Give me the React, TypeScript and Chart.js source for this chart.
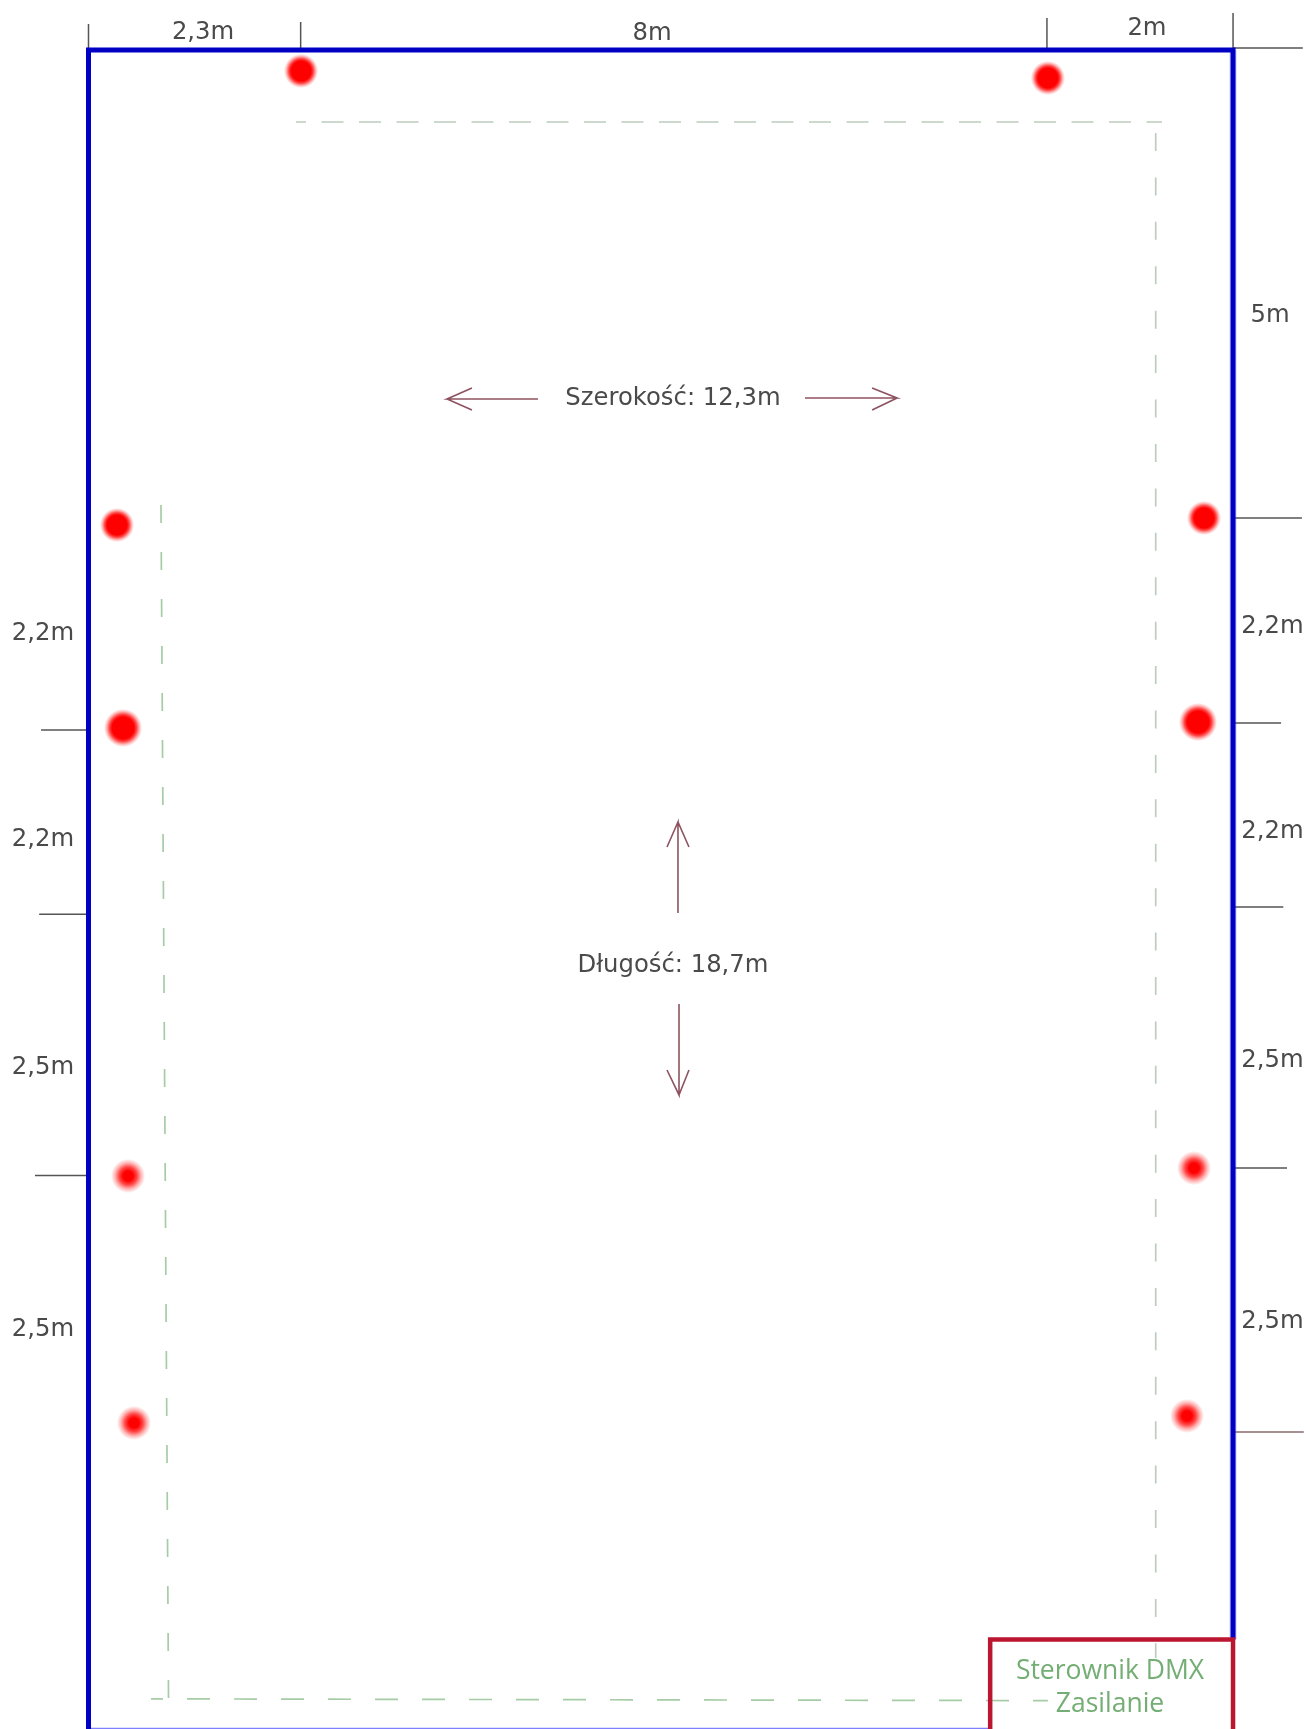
import React, { useEffect, useRef } from "react";
import { Chart, registerables } from "chart.js";

Chart.register(...registerables);

// All positions are metres on the hall plan: x across the width, y down the length.
const hallWidth = 12.3;
const hallLength = 18.7;

// Outer wall
const wallX = [0, 0, 12.3, 12.3];
const wallY = [18.72, 0, 0, 17.71];
const floorEdgeX = [0, 9.69];
const floorEdgeY = [18.7, 18.7];

// Controller box
const boxX = [9.69, 9.69, 12.3, 12.3];
const boxY = [18.72, 17.71, 17.71, 18.72];

// Dashed cable run
const cableTopX = [2.23, 11.537];
const cableTopY = [0.802, 0.802];
const cableRightX = [11.469, 11.469];
const cableRightY = [0.925, 17.914];
const cableLeftX = [0.779, 0.86];
const cableLeftY = [5.069, 18.36];
const cableBottomX = [0.672, 10.31];
const cableBottomY = [18.37, 18.39];

// Fixtures
const fixtureTopX = [2.284, 10.31];
const fixtureTopY = [0.234, 0.312];
const fixtureUpperX = [0.306, 11.988];
const fixtureUpperY = [5.292, 5.214];
const fixtureMiddleX = [0.371, 11.924];
const fixtureMiddleY = [7.553, 7.487];
const fixtureLowerX = [0.425, 0.489, 11.88, 11.805];
const fixtureLowerY = [12.544, 15.296, 12.456, 15.218];

// Dimension ticks
const tickTopX = [0, 2.28, 10.3, 12.3];
const tickTopFromY = [-0.29, -0.312, -0.357, -0.412];
const tickLeftY = [7.576, 9.63, 12.54];
const tickLeftFromX = [-0.51, -0.53, -0.575];
const tickRightY = [-0.022, 5.214, 7.498, 9.548, 12.456];
const tickRightToX = [13.05, 13.04, 12.816, 12.84, 12.88];
const tickBrownY = [15.396];
const tickBrownToX = [13.06];

// Arrows
const arrowLeftX = [4.831, 3.853, 4.121, 3.853, 4.121];
const arrowLeftY = [3.888, 3.888, 3.766, 3.888, 4.011];
const arrowRightX = [7.7, 8.689, 8.421, 8.689, 8.421];
const arrowRightY = [3.877, 3.877, 3.766, 3.877, 4.011];
const arrowUpX = [6.335, 6.335, 6.217, 6.335, 6.453];
const arrowUpY = [9.615, 8.601, 8.879, 8.601, 8.879];
const arrowDownX = [6.346, 6.346, 6.217, 6.346, 6.453];
const arrowDownY = [10.628, 11.642, 11.364, 11.642, 11.364];

// Text
const labelTexts = ["2,3m", "8m", "2m", "5m", "Szerokość: 12,3m", "Długość: 18,7m", "2,2m", "2,2m", "2,5m", "2,5m", "2,2m", "2,2m", "2,5m", "2,5m"];
const labelX = [1.231, 6.056, 11.375, 12.697, 6.281, 6.281, -0.489, -0.489, -0.489, -0.489, 12.724, 12.724, 12.724, 12.724];
const labelY = [-0.123, -0.111, -0.167, 3.03, 3.955, 10.27, 6.573, 8.868, 11.408, 14.327, 6.495, 8.779, 11.33, 14.238];
const boxTexts = ["Sterownik DMX", "Zasilanie"];
const boxTextX = [10.978, 10.978];
const boxTextY = [18.148, 18.516];

const zip = (xs: number[], ys: number[]) => xs.map((x, i) => ({ x, y: ys[i] }));

function glow(radius: number, core: number, colour = "255,0,0") {
  const c = document.createElement("canvas");
  c.width = c.height = radius * 2;
  const g = c.getContext("2d")!;
  const grad = g.createRadialGradient(radius, radius, 0, radius, radius, radius);
  const k = core / radius;
  grad.addColorStop(0, `rgba(${colour},1)`);
  grad.addColorStop(k, `rgba(${colour},1)`);
  grad.addColorStop(k + (1 - k) * 0.33, `rgba(${colour},0.72)`);
  grad.addColorStop(k + (1 - k) * 0.66, `rgba(${colour},0.3)`);
  grad.addColorStop(1, `rgba(${colour},0)`);
  g.fillStyle = grad;
  g.fillRect(0, 0, radius * 2, radius * 2);
  return c;
}

const line = (data: { x: number; y: number }[], borderColor: string, borderWidth: number, extra: object = {}) => ({
  data,
  borderColor,
  borderWidth,
  showLine: true,
  pointRadius: 0,
  fill: false,
  tension: 0,
  ...extra,
});

const spot = (data: { x: number; y: number }[], sprite: HTMLCanvasElement) => ({
  data,
  showLine: false,
  pointStyle: sprite,
  pointRadius: sprite.width / 2,
});

const tickSegments = (pairs: { x: number; y: number }[][], colour: string, width = 1.5) =>
  pairs.map((p) => line(p, colour, width));

const textPlugin = {
  id: "planText",
  afterDatasetsDraw(chart: any) {
    const { ctx, scales } = chart;
    ctx.save();
    ctx.textAlign = "center";
    ctx.textBaseline = "alphabetic";
    ctx.font = '24.3px "DejaVu Sans"';
    ctx.fillStyle = "#4a4a4a";
    labelTexts.forEach((t, i) => {
      ctx.fillText(t, scales.x.getPixelForValue(labelX[i]), scales.y.getPixelForValue(labelY[i]));
    });
    ctx.font = '26.5px "Open Sans"';
    ctx.fillStyle = "#74ae74";
    boxTexts.forEach((t, i) => {
      ctx.fillText(t, scales.x.getPixelForValue(boxTextX[i]), scales.y.getPixelForValue(boxTextY[i]));
    });
    ctx.restore();
  },
};

export default function App() {
  const ref = useRef<HTMLCanvasElement>(null);
  useEffect(() => {
    const darkTick = "#555555";
    const arrow = "#8e5360";
    const cable = "#a6cca6";
    const cableGrey = "#bccdbc";
    const datasets: any[] = [
      spot(zip(fixtureTopX, fixtureTopY), glow(17, 10)),
      spot(zip(fixtureUpperX, fixtureUpperY), glow(17, 10)),
      spot(zip(fixtureMiddleX, fixtureMiddleY), glow(19, 11)),
      spot(zip(fixtureLowerX, fixtureLowerY), glow(17, 5)),
      line(zip(boxX, boxY), "#bc1530", 4.5),
      line(zip(wallX, wallY), "#0000c4", 5),
      line(zip(floorEdgeX, floorEdgeY), "#8080ff", 1.5),
      line(zip(cableTopX, cableTopY), cableGrey, 1.7, { borderDash: [22, 15.5], borderDashOffset: 12 }),
      line(zip(cableRightX, cableRightY), cableGrey, 1.7, { borderDash: [18, 26.42] }),
      line(zip(cableLeftX, cableLeftY), cable, 1.7, { borderDash: [18, 29] }),
      line(zip(cableBottomX, cableBottomY), cable, 1.7, { borderDash: [23, 24], borderDashOffset: 11 }),
      line(zip(arrowLeftX, arrowLeftY), arrow, 1.6),
      line(zip(arrowRightX, arrowRightY), arrow, 1.6),
      line(zip(arrowUpX, arrowUpY), arrow, 1.6),
      line(zip(arrowDownX, arrowDownY), arrow, 1.6),
      ...tickSegments(tickTopX.map((x, i) => [{ x, y: tickTopFromY[i] }, { x, y: 0 }]), darkTick),
      ...tickSegments(tickLeftY.map((y, i) => [{ x: tickLeftFromX[i], y }, { x: 0, y }]), darkTick),
      ...tickSegments(tickRightY.map((y, i) => [{ x: hallWidth, y }, { x: tickRightToX[i], y }]), darkTick),
      ...tickSegments(tickBrownY.map((y, i) => [{ x: hallWidth, y }, { x: tickBrownToX[i], y }]), "#8a6a6e"),
      line(zip(wallX.slice(2), wallY.slice(2)), "#d2d2ff", 7),
    ];
    const chart = new Chart(ref.current!, {
      type: "scatter",
      data: { datasets },
      plugins: [textPlugin],
      options: {
        animation: false,
        responsive: false,
        devicePixelRatio: 1,
        layout: { padding: 0, autoPadding: false },
        events: [],
        plugins: { legend: { display: false }, tooltip: { enabled: false }, title: { display: false } },
        clip: false,
        scales: {
          x: { type: "linear", display: false, min: -0.951, max: hallWidth + 0.784 },
          y: { type: "linear", display: false, reverse: true, min: -0.557, max: hallLength + 0.006 },
        },
      },
    } as any);
    return () => chart.destroy();
  }, []);
  return (
    <canvas
      ref={ref}
      width={1306}
      height={1729}
      style={{ position: "absolute", left: 0, top: 0, width: 1306, height: 1729, background: "#ffffff", display: "block" }}
    />
  );
}
